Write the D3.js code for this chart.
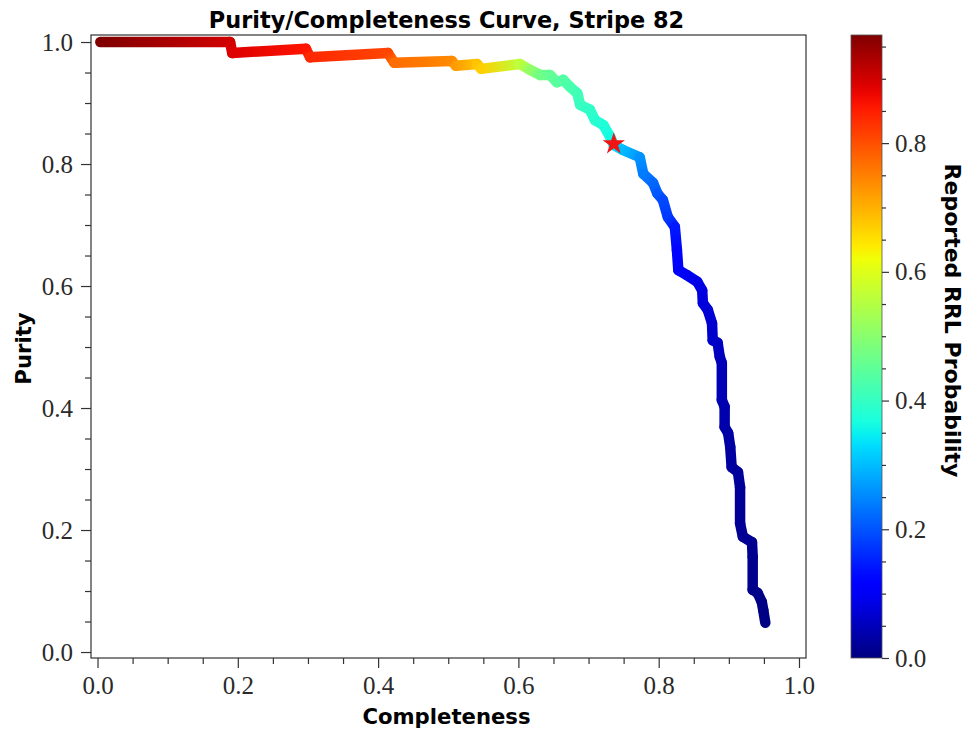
<!DOCTYPE html>
<html>
<head>
<meta charset="utf-8">
<script src="https://cdn.jsdelivr.net/npm/d3@7"></script>
<style>
  body { margin: 0; background: #fff; }
  svg { display: block; }
  .tick-label { font-family: "Liberation Serif", serif; font-size: 25px; fill: #2a2a2a; }
  .lab { font-family: "DejaVu Sans", sans-serif; font-weight: bold; fill: #000; }
</style>
</head>
<body>
<svg id="chart" width="967" height="731"></svg>
<script>
'use strict'

// values, one entry per vertex of the stepped curve
const completeness = [0.004, 0.189, 0.192, 0.297, 0.303, 0.414, 0.423, 0.505, 0.511, 0.541,
  0.547, 0.602, 0.617, 0.631, 0.645, 0.655, 0.664, 0.674, 0.684, 0.688,
  0.702, 0.709, 0.721, 0.731, 0.736, 0.749, 0.773, 0.778, 0.792, 0.798,
  0.806, 0.813, 0.823, 0.826, 0.828, 0.840, 0.855, 0.862, 0.863, 0.870,
  0.876, 0.877, 0.884, 0.887, 0.890, 0.890, 0.894, 0.894, 0.899, 0.902,
  0.904, 0.913, 0.916, 0.916, 0.920, 0.933, 0.934, 0.934, 0.941, 0.947,
  0.949, 0.952]
const purity = [1.000, 1.000, 0.982, 0.989, 0.975, 0.982, 0.966, 0.969, 0.961, 0.964,
  0.956, 0.964, 0.954, 0.946, 0.946, 0.934, 0.938, 0.926, 0.916, 0.897,
  0.889, 0.872, 0.864, 0.844, 0.831, 0.823, 0.811, 0.784, 0.769, 0.752,
  0.741, 0.713, 0.697, 0.659, 0.626, 0.618, 0.607, 0.593, 0.572, 0.561,
  0.539, 0.511, 0.507, 0.484, 0.474, 0.413, 0.402, 0.369, 0.359, 0.336,
  0.303, 0.295, 0.270, 0.211, 0.189, 0.180, 0.156, 0.102, 0.097, 0.082,
  0.069, 0.048]
const probability = [0.968, 0.900, 0.890, 0.860, 0.840, 0.810, 0.770, 0.740, 0.720, 0.680,
  0.670, 0.560, 0.510, 0.470, 0.455, 0.445, 0.435, 0.425, 0.415, 0.405,
  0.395, 0.385, 0.375, 0.360, 0.340, 0.300, 0.260, 0.240, 0.220, 0.205,
  0.190, 0.175, 0.145, 0.125, 0.110, 0.097, 0.087, 0.082, 0.077, 0.073,
  0.068, 0.063, 0.058, 0.053, 0.048, 0.044, 0.039, 0.036, 0.033, 0.030,
  0.027, 0.024, 0.021, 0.019, 0.017, 0.015, 0.012, 0.010, 0.008, 0.006,
  0.004, 0.002]
const chosenPoint = [0.736, 0.833]   // the red star (completeness, purity)

const axisTicks = [0, 0.2, 0.4, 0.6, 0.8, 1.0]
const colorTicks = [0, 0.2, 0.4, 0.6, 0.8]
const probMax = 0.968

const title = 'Purity/Completeness Curve, Stripe 82',
  xTitle = 'Completeness',
  yTitle = 'Purity',
  cTitle = 'Reported RRL Probability'

// matplotlib "jet" segment data
const jetR = d3.scaleLinear().domain([0, 0.35, 0.66, 0.89, 1]).range([0, 0, 1, 1, 0.5]).clamp(true),
  jetG = d3.scaleLinear().domain([0, 0.125, 0.375, 0.64, 0.91, 1]).range([0, 0, 1, 1, 0, 0]).clamp(true),
  jetB = d3.scaleLinear().domain([0, 0.11, 0.34, 0.65, 1]).range([0.5, 1, 1, 0, 0]).clamp(true)
const jet = t => d3.rgb(jetR(t) * 255, jetG(t) * 255, jetB(t) * 255).formatHex()
const color = v => jet(v / probMax)

const plot = {left: 91, right: 806, top: 35, bottom: 658},
  bar = {left: 851, right: 882}

const x = d3.scaleLinear().domain([-0.0093, 1.0100]).range([plot.left, plot.right]),
  y = d3.scaleLinear().domain([-0.0098, 1.0115]).range([plot.bottom, plot.top]),
  cY = d3.scaleLinear().domain([0, probMax]).range([plot.bottom, plot.top])

const svg = d3.select('#chart')
const defs = svg.append('defs')

const minorOf = (lo, hi, majors) => d3.range(lo, hi, 0.05)
  .map(v => +v.toFixed(2))
  .filter(v => !majors.some(m => Math.abs(m - v) < 1e-6))

// ---- axes ----
const styleAxis = g => {
  g.select('.domain').remove()
  g.attr('color', '#333')
  g.selectAll('line').attr('stroke-width', 1.2)
  g.selectAll('text').attr('class', 'tick-label')
}

svg.append('g')
  .attr('transform', 'translate(0,' + plot.bottom + ')')
  .call(d3.axisBottom(x).tickValues(axisTicks).tickSize(10).tickPadding(8).tickFormat(d3.format('.1f')))
  .call(styleAxis)
svg.append('g')
  .attr('transform', 'translate(0,' + plot.bottom + ')')
  .call(d3.axisBottom(x).tickValues(minorOf(0, 1.0001, axisTicks)).tickSize(6).tickFormat(''))
  .call(styleAxis)

svg.append('g')
  .attr('transform', 'translate(' + plot.left + ',0)')
  .call(d3.axisLeft(y).tickValues(axisTicks).tickSize(10).tickPadding(8).tickFormat(d3.format('.1f')))
  .call(styleAxis)
svg.append('g')
  .attr('transform', 'translate(' + plot.left + ',0)')
  .call(d3.axisLeft(y).tickValues(minorOf(0, 1.0001, axisTicks)).tickSize(6).tickFormat(''))
  .call(styleAxis)

// frame
svg.append('rect')
  .attr('x', plot.left).attr('y', plot.top)
  .attr('width', plot.right - plot.left).attr('height', plot.bottom - plot.top)
  .attr('fill', 'none').attr('stroke', '#333').attr('stroke-width', 1.2)

// ---- curve: segments shaded by probability ----
const pts = completeness.map((c, i) => ({c: c, p: purity[i], prob: probability[i]}))
const segs = d3.pairs(pts)

segs.forEach(([a, b], i) => {
  const grad = defs.append('linearGradient')
    .attr('id', 'seg' + i)
    .attr('gradientUnits', 'userSpaceOnUse')
    .attr('x1', x(a.c)).attr('y1', y(a.p))
    .attr('x2', x(b.c)).attr('y2', y(b.p))
  grad.append('stop').attr('offset', 0).attr('stop-color', color(a.prob))
  grad.append('stop').attr('offset', 1).attr('stop-color', color(b.prob))
})

svg.append('g').selectAll('line')
  .data(segs)
  .enter().append('line')
  .attr('x1', d => x(d[0].c)).attr('y1', d => y(d[0].p))
  .attr('x2', d => x(d[1].c)).attr('y2', d => y(d[1].p))
  .attr('stroke', (d, i) => 'url(#seg' + i + ')')
  .attr('stroke-width', 10.5)
  .attr('stroke-linecap', 'round')

svg.append('path')
  .attr('d', d3.symbol(d3.symbolStar).size(155)())
  .attr('transform', 'translate(' + x(chosenPoint[0]) + ',' + y(chosenPoint[1]) + ')')
  .attr('fill', '#f01414')

// ---- colorbar ----
const cgrad = defs.append('linearGradient')
  .attr('id', 'jetbar')
  .attr('x1', 0).attr('y1', 1).attr('x2', 0).attr('y2', 0)
d3.range(0, 1.0001, 0.02).forEach(t => {
  cgrad.append('stop').attr('offset', t).attr('stop-color', jet(t))
})
svg.append('rect')
  .attr('x', bar.left).attr('y', plot.top)
  .attr('width', bar.right - bar.left).attr('height', plot.bottom - plot.top)
  .attr('fill', 'url(#jetbar)')
  .attr('stroke', '#555').attr('stroke-width', 0.8)

svg.append('g')
  .attr('transform', 'translate(' + bar.right + ',0)')
  .call(d3.axisRight(cY).tickValues(colorTicks).tickSize(7).tickPadding(6).tickFormat(d3.format('.1f')))
  .call(styleAxis)
svg.append('g')
  .attr('transform', 'translate(' + bar.right + ',0)')
  .call(d3.axisRight(cY).tickValues(minorOf(0, probMax, colorTicks)).tickSize(4).tickFormat(''))
  .call(styleAxis)

// ---- titles ----
const midX = (plot.left + plot.right) / 2,
  midY = (plot.top + plot.bottom) / 2

svg.append('text').attr('class', 'lab')
  .attr('x', midX - 2).attr('y', 28)
  .attr('text-anchor', 'middle').attr('font-size', 22.4)
  .text(title)

svg.append('text').attr('class', 'lab')
  .attr('x', midX - 2).attr('y', 724)
  .attr('text-anchor', 'middle').attr('font-size', 21.2)
  .text(xTitle)

svg.append('text').attr('class', 'lab')
  .attr('transform', 'translate(31,' + (midY + 2) + ') rotate(-90)')
  .attr('text-anchor', 'middle').attr('font-size', 21.2)
  .text(yTitle)

svg.append('text').attr('class', 'lab')
  .attr('transform', 'translate(945,' + (midY - 26) + ') rotate(90)')
  .attr('text-anchor', 'middle').attr('font-size', 22)
  .text(cTitle)
</script>
</body>
</html>
